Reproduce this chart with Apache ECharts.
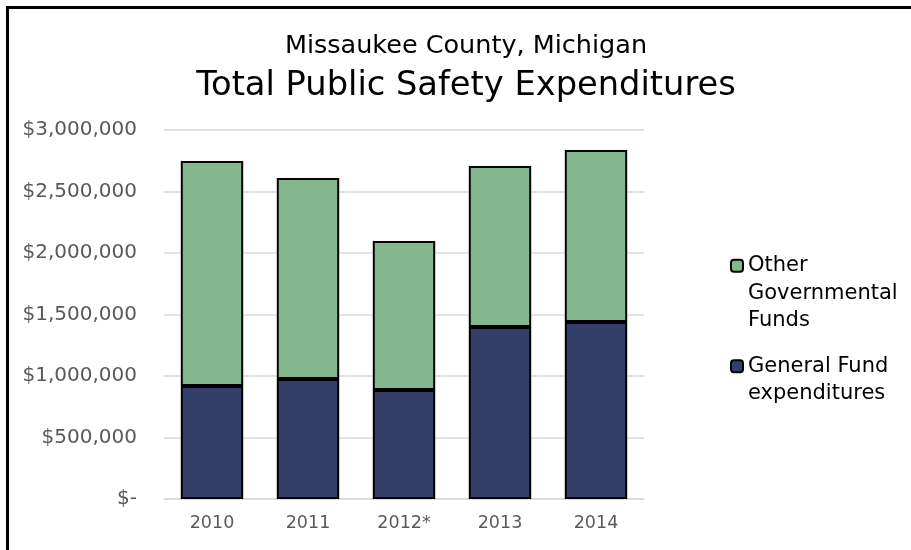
<!DOCTYPE html>
<html>
<head>
<meta charset="utf-8">
<script src="https://cdn.jsdelivr.net/npm/echarts@6/dist/echarts.min.js"></script>
<style>
  html, body { margin: 0; padding: 0; background: #fff; }
  #chart { width: 911px; height: 550px; }
</style>
</head>
<body>
<div id="chart"></div>
<script>
// 数据
const years = ['2010', '2011', '2012*', '2013', '2014'];
const generalFund = [919000, 976000, 886000, 1398000, 1439000];
const otherFunds = [1829000, 1634000, 1212000, 1309000, 1398000];
const yTicks = [0, 500000, 1000000, 1500000, 2000000, 2500000, 3000000];

const textFont = '"DejaVu Sans", sans-serif';

function money(v) {
  if (v === 0) return '$-';
  return '$' + v.toLocaleString('en-US');
}

const myChart = echarts.init(document.getElementById('chart'));
myChart.setOption({
  animation: false,
  graphic: [
    // 外框
    { type: 'rect', shape: { x: 7.5, y: 7.5, width: 920, height: 560 },
      style: { fill: 'none', stroke: '#000', lineWidth: 3 }, z: 10 },
    { type: 'text', x: 466, y: 46,
      style: { text: 'Missaukee County, Michigan', font: '25.5px ' + textFont,
               fill: '#000', align: 'center', verticalAlign: 'middle' } },
    { type: 'text', x: 466, y: 86,
      style: { text: 'Total Public Safety Expenditures', font: '33.7px ' + textFont,
               fill: '#000', align: 'center', verticalAlign: 'middle' } }
  ],
  // 图例：前面加空行，让图标对齐第一行
  legend: [
    {
      orient: 'vertical', left: 730, top: 197, padding: 0,
      itemWidth: 12, itemHeight: 12, itemGap: 0,
      data: [{ name: 'Other Governmental Funds' }],
      formatter: function () { return '\n\nOther\nGovernmental\nFunds'; },
      textStyle: { fontFamily: textFont, fontSize: 21, color: '#000', lineHeight: 27.5 }
    },
    {
      orient: 'vertical', left: 730, top: 325, padding: 0,
      itemWidth: 12, itemHeight: 12, itemGap: 0,
      data: [{ name: 'General Fund expenditures' }],
      formatter: function () { return '\nGeneral Fund\nexpenditures'; },
      textStyle: { fontFamily: textFont, fontSize: 21, color: '#000', lineHeight: 27.5 }
    }
  ],
  grid: { left: 164, right: 267, top: 130, bottom: 51 },
  xAxis: {
    type: 'category',
    data: years,
    axisLine: { lineStyle: { color: '#d9d9d9', width: 1.5 } },
    axisTick: { show: false },
    axisLabel: { fontFamily: textFont, fontSize: 17.5, color: '#595959', margin: 15 }
  },
  yAxis: {
    type: 'value',
    min: yTicks[0],
    max: yTicks[yTicks.length - 1],
    interval: yTicks[1] - yTicks[0],
    axisLine: { show: false },
    axisTick: { show: false },
    splitLine: { lineStyle: { color: '#d9d9d9', width: 1.5 } },
    axisLabel: { fontFamily: textFont, fontSize: 20, color: '#595959', margin: 27,
                 formatter: money }
  },
  series: [
    {
      name: 'General Fund expenditures',
      type: 'bar',
      stack: 'total',
      barWidth: '65%',
      data: generalFund,
      itemStyle: { color: '#343f69', borderColor: '#000', borderWidth: 2 }
    },
    {
      name: 'Other Governmental Funds',
      type: 'bar',
      stack: 'total',
      barWidth: '65%',
      data: otherFunds,
      itemStyle: { color: '#85b78e', borderColor: '#000', borderWidth: 2 }
    }
  ]
});
</script>
</body>
</html>
